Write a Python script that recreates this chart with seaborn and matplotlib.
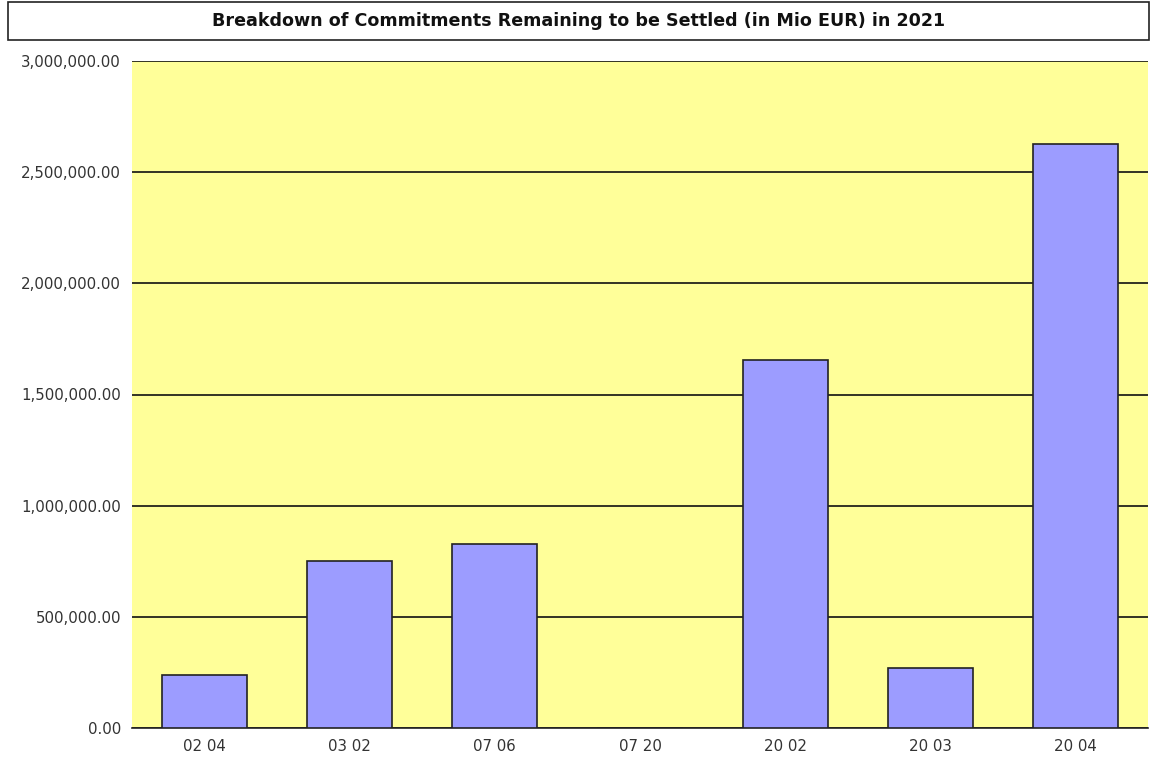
import matplotlib
matplotlib.use("Agg")
import matplotlib.pyplot as plt
from matplotlib.patches import Rectangle
from matplotlib.ticker import FuncFormatter
import seaborn as sns
import pandas as pd

# Commitments remaining to be settled, by budget heading (Mio EUR)
categories = ["02 04", "03 02", "07 06", "07 20", "20 02", "20 03", "20 04"]
amounts = [238000, 751000, 828000, 0, 1655000, 270000, 2625000]
y_ticks = [0, 500000, 1000000, 1500000, 2000000, 2500000, 3000000]

df = pd.DataFrame({"heading": categories, "amount": amounts})

sns.set_theme(style="white")
plt.rcParams["font.family"] = ["DejaVu Sans"]

fig = plt.figure(figsize=(11.5, 7.67), dpi=100)
W, H = 1150, 767
ax = fig.add_axes([132 / W, 1 - 728 / H, (1148 - 132) / W, (728 - 61) / H])
ax.set_facecolor("#FFFF99")

sns.barplot(data=df, x="heading", y="amount", ax=ax, color="#9C9CFF",
            saturation=1, width=0.586, edgecolor="#222222", linewidth=1.2,
            zorder=3)

ax.set_xlim(-0.5, len(categories) - 0.5)
ax.set_ylim(0, 3000000)
ax.set_yticks(y_ticks)
ax.yaxis.set_major_formatter(FuncFormatter(lambda v, p: f"{v:,.2f}"))
ax.grid(axis="y", color="#111111", linewidth=1.2, zorder=1)
ax.set_axisbelow(True)
for s in ["left", "right", "top"]:
    ax.spines[s].set_visible(False)
ax.spines["bottom"].set_color("#222222")
ax.spines["bottom"].set_linewidth(1.2)
ax.tick_params(axis="y", length=0, pad=8, labelsize=10.8, labelcolor="#333333")
ax.tick_params(axis="x", length=0, pad=8, labelsize=10.8, labelcolor="#333333")
ax.set_xlabel("")
ax.set_ylabel("")

# Framed title strip across the top
fig.patches.append(Rectangle((8 / W, 1 - 40 / H), (1149 - 8) / W, 38 / H,
                             transform=fig.transFigure, facecolor="white",
                             edgecolor="#222222", linewidth=1.2))
fig.text(579 / W, 1 - 21 / H,
         "Breakdown of Commitments Remaining to be Settled (in Mio EUR) in 2021",
         ha="center", va="center", fontsize=12.6, fontweight="bold", color="#111111")

fig.savefig("out.png", dpi=100, facecolor="white")
